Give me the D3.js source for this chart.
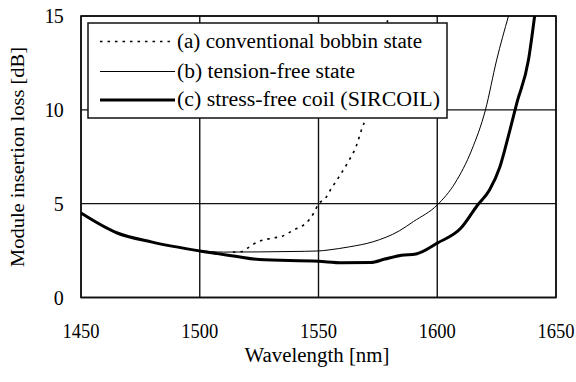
<!DOCTYPE html>
<html><head><meta charset="utf-8">
<script src="https://cdn.jsdelivr.net/npm/d3@7"></script>
<style>
body{margin:0;background:#fff}
svg{display:block}
#c text{font-family:"Liberation Serif","Tinos","Times New Roman",serif;fill:#000}
</style>
</head><body>
<svg id="c" width="576" height="382" font-family="Liberation Serif, serif"></svg>
<script>
const xTicks = [1450, 1500, 1550, 1600, 1650];
const yTicks = [0, 5, 10, 15];
const seriesNames = ["(a) conventional bobbin state", "(b) tension-free state", "(c) stress-free coil (SIRCOIL)"];
const wlA = [1514, 1518, 1520, 1524.5, 1531, 1535, 1539, 1546, 1548, 1550, 1553, 1555, 1559, 1562.5, 1566, 1568, 1570, 1574, 1579, 1580];
const lossA = [2.42, 2.45, 2.62, 2.97, 3.17, 3.28, 3.56, 4.13, 4.5, 4.98, 5.3, 5.73, 6.5, 7.23, 8.1, 8.9, 9.6, 11.7, 14.7, 15.2];
const wlB = [1450, 1465, 1480, 1500, 1510, 1525, 1538, 1550, 1554, 1563, 1573, 1584, 1590, 1600, 1607.5, 1614.5, 1620.3, 1625, 1630];
const lossB = [4.5, 3.45, 2.95, 2.5, 2.42, 2.43, 2.45, 2.48, 2.53, 2.7, 2.97, 3.55, 4.05, 4.93, 6.1, 7.86, 10, 12.65, 15];
const wlC = [1450, 1465, 1480, 1500, 1515, 1525, 1550, 1560, 1572, 1578, 1585, 1591, 1600, 1610, 1617, 1622, 1626.4, 1630.6, 1633.5, 1638.4, 1641];
const lossC = [4.5, 3.45, 2.95, 2.48, 2.2, 2.02, 1.93, 1.85, 1.86, 2.05, 2.25, 2.32, 2.9, 3.7, 4.93, 5.73, 6.97, 8.92, 10.36, 12.65, 15];

const svg = d3.select("#c");
const L = 81, R = 556, T = 16, B = 297.5;
const x = d3.scaleLinear().domain([1450, 1650]).range([L, R]);
const y = d3.scaleLinear().domain([0, 15]).range([B, T]);

svg.append("g").selectAll("line").data(xTicks).join("line")
  .attr("x1", d => x(d)).attr("x2", d => x(d)).attr("y1", T).attr("y2", B)
  .attr("stroke", "#111").attr("stroke-width", 1.4);
svg.append("g").selectAll("line").data(yTicks).join("line")
  .attr("x1", L).attr("x2", R).attr("y1", d => y(d)).attr("y2", d => y(d))
  .attr("stroke", "#111").attr("stroke-width", 1.4);
svg.append("rect").attr("x", L).attr("y", T).attr("width", R - L).attr("height", B - T)
  .attr("fill", "none").attr("stroke", "#111").attr("stroke-width", 1.6);

svg.append("g").selectAll("text").data(xTicks).join("text")
  .attr("x", d => x(d)).attr("y", 338).attr("text-anchor", "middle")
  .attr("font-size", 20).attr("textLength", 37).attr("lengthAdjust", "spacingAndGlyphs").text(d => d);
svg.append("g").selectAll("text").data(yTicks).join("text")
  .attr("x", 63).attr("y", d => y(d) + 7).attr("text-anchor", "end")
  .attr("font-size", 20).attr("letter-spacing", -0.8).text(d => d);

svg.append("text").attr("x", 317).attr("y", 362).attr("text-anchor", "middle")
  .attr("font-size", 20).attr("textLength", 145).attr("lengthAdjust", "spacingAndGlyphs")
  .text("Wavelength [nm]");
svg.append("text").attr("transform", "translate(24,157) rotate(-90)").attr("text-anchor", "middle")
  .attr("font-size", 19).attr("textLength", 220).attr("lengthAdjust", "spacingAndGlyphs")
  .text("Module insertion loss [dB]");

svg.append("clipPath").attr("id", "clip").append("rect")
  .attr("x", L).attr("y", T).attr("width", R - L).attr("height", B - T);

const line = d3.line().x(d => x(d[0])).y(d => y(d[1])).curve(d3.curveMonotoneX);
const g = svg.append("g").attr("clip-path", "url(#clip)");
const styles = [
  {w: 1.6, dash: "2.5,5"},
  {w: 1, dash: null},
  {w: 3, dash: null}
];
const sets = [d3.zip(wlA, lossA), d3.zip(wlB, lossB), d3.zip(wlC, lossC)];
sets.forEach((s, i) => {
  g.append("path").datum(s).attr("d", line).attr("fill", "none")
    .attr("stroke", "#000").attr("stroke-width", styles[i].w)
    .attr("stroke-dasharray", styles[i].dash);
});

const lg = svg.append("g");
lg.append("rect").attr("x", 88).attr("y", 23).attr("width", 359).attr("height", 95)
  .attr("fill", "#fff").attr("stroke", "#111").attr("stroke-width", 1.5);
const rowY = [41.5, 71.5, 100];
const textEnd = [422, 355, 440];
seriesNames.forEach((n, i) => {
  lg.append("line").attr("x1", 100).attr("x2", 175).attr("y1", rowY[i]).attr("y2", rowY[i])
    .attr("stroke", "#000").attr("stroke-width", styles[i].w).attr("stroke-dasharray", styles[i].dash);
  lg.append("text").attr("x", 177).attr("y", rowY[i] + 6).attr("font-size", 20)
    .attr("textLength", textEnd[i] - 177).attr("lengthAdjust", "spacingAndGlyphs").text(n);
});
</script>
</body></html>
